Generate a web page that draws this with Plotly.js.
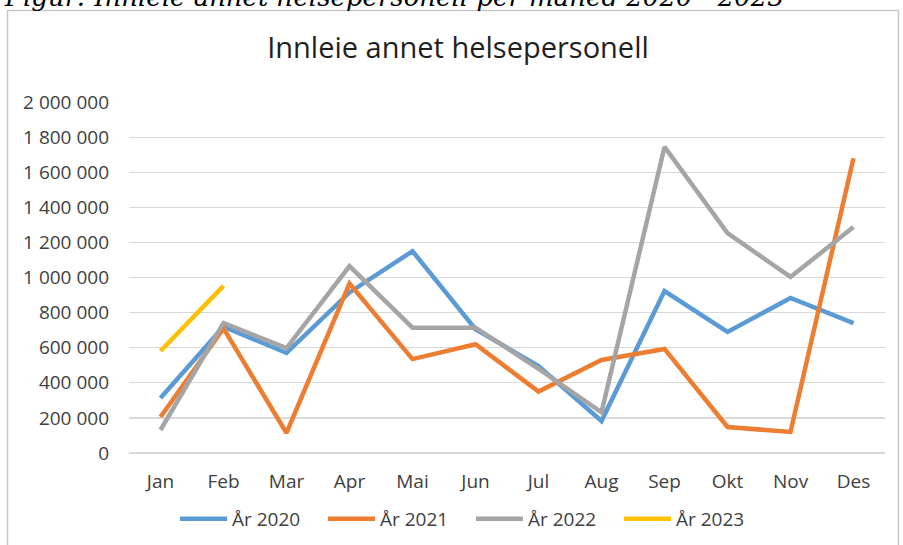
<!DOCTYPE html>
<html>
<head>
<meta charset="utf-8">
<script src="https://cdn.plot.ly/plotly-3.0.1.min.js"></script>
<style>
  html, body { margin: 0; padding: 0; background: #ffffff; }
  #chart { width: 903px; height: 545px; }
</style>
</head>
<body>
<div id="chart"></div>
<script>
const months = ['Jan','Feb','Mar','Apr','Mai','Jun','Jul','Aug','Sep','Okt','Nov','Des'];
const seriesNames = ['År 2020','År 2021','År 2022','År 2023'];
const y2020 = [313000, 720000, 570000, 915000, 1150000, 705000, 495000, 182000, 923000, 690000, 883000, 740000];
const y2021 = [205000, 710000, 114000, 965000, 535000, 620000, 350000, 530000, 593000, 148000, 120000, 1680000];
const y2022 = [131000, 741000, 598000, 1065000, 714000, 714000, 480000, 232000, 1744000, 1253000, 1003000, 1288000];
const y2023 = [581000, 952000];
const yTicks = [0, 200000, 400000, 600000, 800000, 1000000, 1200000, 1400000, 1600000, 1800000, 2000000];
const chartTitle = 'Innleie annet helsepersonell';
const caption = 'Figur: Innleie annet helsepersonell per måned 2020 - 2023';

const colors = ['#5B9BD5', '#ED7D31', '#A5A5A5', '#FFC000'];
const allY = [y2020, y2021, y2022, y2023];

const traces = allY.map((ys, i) => ({
  type: 'scatter',
  mode: 'lines',
  name: seriesNames[i],
  x: months.slice(0, ys.length),
  y: ys,
  line: { color: colors[i], width: 4.5, shape: 'linear' },
  hoverinfo: 'x+y+name'
}));

// plot area in pixels: left 129, right 885, top 102, bottom 453
const L = 129, R = 885, T = 102, B = 453;
const W = R - L, H = B - T;
const px = v => (v - L) / W;
const py = v => (B - v) / H;

const layout = {
  width: 903,
  height: 545,
  paper_bgcolor: '#ffffff',
  plot_bgcolor: '#ffffff',
  margin: { l: L, r: 903 - R, t: T, b: 545 - B, pad: 0, autoexpand: false },
  separators: ', ',
  font: { family: 'Open Sans, Liberation Sans, sans-serif', color: '#404040', size: 19 },
  title: {
    text: chartTitle,
    font: { family: 'Open Sans, Liberation Sans, sans-serif', size: 29, color: '#1f1f1f' },
    x: px(458), xanchor: 'center', xref: 'paper',
    y: 1 - 48 / 545, yanchor: 'middle', yref: 'container'
  },
  xaxis: {
    type: 'category',
    categoryarray: months,
    range: [-0.5, 11.5],
    showgrid: false,
    showline: false,
    zeroline: false,
    ticks: '',
    ticklabelstandoff: 15,
    tickfont: { size: 19, color: '#404040' },
    fixedrange: true
  },
  yaxis: {
    range: [0, 2000000],
    tickvals: yTicks,
    tickformat: ',d',
    showgrid: true,
    gridcolor: '#d9d9d9',
    gridwidth: 1.2,
    zeroline: true,
    zerolinecolor: '#d9d9d9',
    zerolinewidth: 1.2,
    showline: false,
    ticks: '',
    ticklabelstandoff: 19,
    tickfont: { size: 19, color: '#404040' },
    fixedrange: true
  },
  showlegend: true,
  legend: {
    orientation: 'h',
    x: px(471), xanchor: 'center',
    y: py(519), yanchor: 'middle',
    font: { size: 19, color: '#404040' },
    itemwidth: 47,
    entrywidth: 86,
    entrywidthmode: 'pixels',
    tracegroupgap: 0,
    bgcolor: 'rgba(0,0,0,0)'
  },
  shapes: [
    {
      type: 'rect', xref: 'paper', yref: 'paper',
      x0: px(7.5), x1: px(898.5), y0: py(10.5), y1: py(560),
      line: { color: '#c8c8c8', width: 1.5 },
      fillcolor: 'rgba(0,0,0,0)',
      layer: 'below'
    }
  ],
  annotations: [
    {
      text: '<i>' + caption + '</i>',
      xref: 'paper', yref: 'paper',
      x: px(2), xanchor: 'left',
      y: py(-3), yanchor: 'middle',
      showarrow: false,
      font: { family: 'DejaVu Serif, serif', size: 26, color: '#000000' }
    }
  ]
};

Plotly.newPlot('chart', traces, layout, { displayModeBar: false, staticPlot: true });
</script>
</body>
</html>
